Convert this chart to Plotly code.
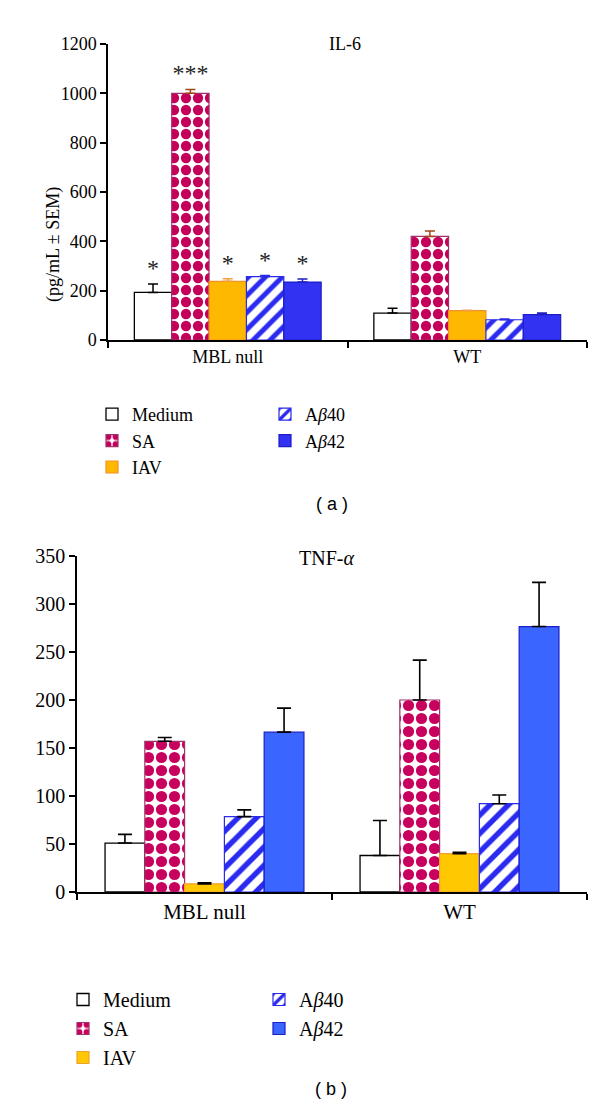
import plotly.graph_objects as go

groups = ["MBL null", "WT"]
series = ["Medium", "SA", "IAV", "Aβ40", "Aβ42"]
legend_names = ["Medium", "SA", "IAV", "A<i>β</i>40", "A<i>β</i>42"]

# IL-6 (panel a)
il6_vals = {
    "Medium": [193, 109],
    "SA": [1000, 420],
    "IAV": [238, 119],
    "Aβ40": [257, 82],
    "Aβ42": [235, 103],
}
il6_err = {
    "Medium": [34, 20],
    "SA": [16, 22],
    "IAV": [10, 2],
    "Aβ40": [4, 3],
    "Aβ42": [12, 6],
}
il6_stars = {
    "Medium": ["*", ""],
    "SA": ["***", ""],
    "IAV": ["*", ""],
    "Aβ40": ["*", ""],
    "Aβ42": ["*", ""],
}

# TNF-alpha (panel b)
tnf_vals = {
    "Medium": [51, 38],
    "SA": [157, 200],
    "IAV": [8.5, 40],
    "Aβ40": [78.5, 92],
    "Aβ42": [166.5, 276.5],
}
tnf_err = {
    "Medium": [9, 36.5],
    "SA": [4, 41.5],
    "IAV": [1.2, 1.3],
    "Aβ40": [7, 9],
    "Aβ42": [25, 46],
}

il6_ticks = [0, 200, 400, 600, 800, 1000, 1200]
tnf_ticks = [0, 50, 100, 150, 200, 250, 300, 350]

SERIF = "Liberation Serif"

styles_top = {
    "Medium": dict(color="white", line=dict(color="black", width=1.3),
                   pattern=None, err="black"),
    "SA": dict(color="white", line=dict(color="#a0306a", width=1.2),
               pattern=dict(shape=".", fgcolor="#c4005a", bgcolor="white", size=12,
                            solidity=0.58, fgopacity=1),
               err="#a04818"),
    "IAV": dict(color="#ffb800", line=dict(color="#f0902a", width=1.2),
                pattern=None, err="#f0a040"),
    "Aβ40": dict(color="white", line=dict(color="#2a2ae8", width=1.2),
                 pattern=dict(shape="/", fgcolor="#2a2af0", bgcolor="white", size=12,
                              solidity=0.42, fgopacity=1),
                 err="#2a2ae0"),
    "Aβ42": dict(color="#3232f2", line=dict(color="#1c1cc8", width=1.2),
                 pattern=None, err="#2020c0"),
}
styles_bot = {
    "Medium": dict(color="white", line=dict(color="black", width=1.3), pattern=None),
    "SA": dict(color="white", line=dict(color="#a0306a", width=1.2),
               pattern=dict(shape=".", fgcolor="#c8005e", bgcolor="white", size=13,
                            solidity=0.58, fgopacity=1)),
    "IAV": dict(color="#ffc800", line=dict(color="#f0a030", width=1.2), pattern=None),
    "Aβ40": dict(color="white", line=dict(color="#2a2ae8", width=1.2),
                 pattern=dict(shape="/", fgcolor="#2a2af0", bgcolor="white", size=13,
                              solidity=0.42, fgopacity=1)),
    "Aβ42": dict(color="#3a66ff", line=dict(color="#1c1cc8", width=1.2), pattern=None),
}

fig = go.Figure()


def marker_of(st):
    m = dict(color=st["color"], line=st["line"])
    if st["pattern"] is not None:
        m["pattern"] = st["pattern"]
    return m


for i, s in enumerate(series):
    st = styles_top[s]
    fig.add_trace(go.Bar(
        x=groups, y=il6_vals[s], name=legend_names[i], offsetgroup=str(i),
        marker=marker_of(st), xaxis="x", yaxis="y",
        legend="legend" if i < 3 else "legend2",
        error_y=dict(type="data", array=il6_err[s], arrayminus=[0, 0], symmetric=False,
                     color=st["err"], thickness=1.5, width=5),
    ))
    # invisible carrier for significance stars, sitting on top of the error bar
    fig.add_trace(go.Bar(
        x=groups, y=[v + e for v, e in zip(il6_vals[s], il6_err[s])],
        offsetgroup=str(i), showlegend=False, hoverinfo="skip",
        marker=dict(color="rgba(0,0,0,0)", line=dict(width=0)),
        text=il6_stars[s], textposition="outside", constraintext="none", cliponaxis=False,
        textfont=dict(family=SERIF, size=24, color="#222"),
        xaxis="x", yaxis="y",
    ))

for i, s in enumerate(series):
    st = styles_bot[s]
    fig.add_trace(go.Bar(
        x=groups, y=tnf_vals[s], name=legend_names[i], offsetgroup=str(i),
        marker=marker_of(st), xaxis="x2", yaxis="y2",
        legend="legend3" if i < 3 else "legend4",
        error_y=dict(type="data", array=tnf_err[s], arrayminus=[0, 0], symmetric=False,
                     color="black", thickness=1.6, width=7),
    ))

W, H = 600, 1112


def px_x(p):
    return p / W


def px_y(p):
    return 1 - p / H


axis_common = dict(showline=True, linecolor="black", linewidth=1.5, ticks="outside",
                   tickcolor="black", ticklen=6, tickwidth=1.5, showgrid=False,
                   zeroline=False, mirror=False, automargin=False)

fig.update_layout(
    template="none",
    width=W, height=H, margin=dict(l=0, r=0, t=0, b=0, pad=0, autoexpand=False),
    paper_bgcolor="white", plot_bgcolor="white",
    barmode="group", bargap=0.22, bargroupgap=0,
    font=dict(family=SERIF, color="black"),
    xaxis=dict(axis_common, domain=[px_x(100), px_x(579)], anchor="y", type="category",
               tickson="boundaries", tickfont=dict(family=SERIF, size=18)),
    yaxis=dict(axis_common, domain=[px_y(332), px_y(36)], anchor="x", range=[0, 1200],
               tickvals=il6_ticks, tickfont=dict(family=SERIF, size=18)),
    xaxis2=dict(axis_common, domain=[px_x(69), px_x(579)], anchor="y2", type="category",
                tickson="boundaries", tickfont=dict(family=SERIF, size=21)),
    yaxis2=dict(axis_common, domain=[px_y(884), px_y(548)], anchor="x2", range=[0, 350],
                tickvals=tnf_ticks, tickfont=dict(family=SERIF, size=20)),
    legend=dict(x=px_x(84), y=px_y(388), xanchor="left", yanchor="top",
                font=dict(family=SERIF, size=18), bgcolor="rgba(0,0,0,0)", tracegroupgap=0),
    legend2=dict(x=px_x(257), y=px_y(388), xanchor="left", yanchor="top",
                 font=dict(family=SERIF, size=18), bgcolor="rgba(0,0,0,0)", tracegroupgap=0),
    legend3=dict(x=px_x(55), y=px_y(972), xanchor="left", yanchor="top",
                 font=dict(family=SERIF, size=20), bgcolor="rgba(0,0,0,0)", tracegroupgap=0),
    legend4=dict(x=px_x(251), y=px_y(972), xanchor="left", yanchor="top",
                 font=dict(family=SERIF, size=20), bgcolor="rgba(0,0,0,0)", tracegroupgap=0),
    annotations=[
        dict(text="IL-6", x=px_x(337), y=px_y(24), xref="paper", yref="paper",
             showarrow=False, font=dict(family=SERIF, size=18)),
        dict(text="TNF-<i>α</i>", x=px_x(318), y=px_y(550), xref="paper", yref="paper",
             showarrow=False, font=dict(family=SERIF, size=20)),
        dict(text="(pg/mL ± SEM)", x=px_x(33), y=px_y(177), xref="paper", yref="paper",
             showarrow=False, textangle=-90, font=dict(family=SERIF, size=18)),
        dict(text="( a )", x=px_x(324), y=px_y(496), xref="paper", yref="paper",
             showarrow=False, font=dict(family="Liberation Sans", size=18)),
        dict(text="( b )", x=px_x(323), y=px_y(1093), xref="paper", yref="paper",
             showarrow=False, font=dict(family="Liberation Sans", size=18)),
    ],
)

fig.write_html("out.html")
